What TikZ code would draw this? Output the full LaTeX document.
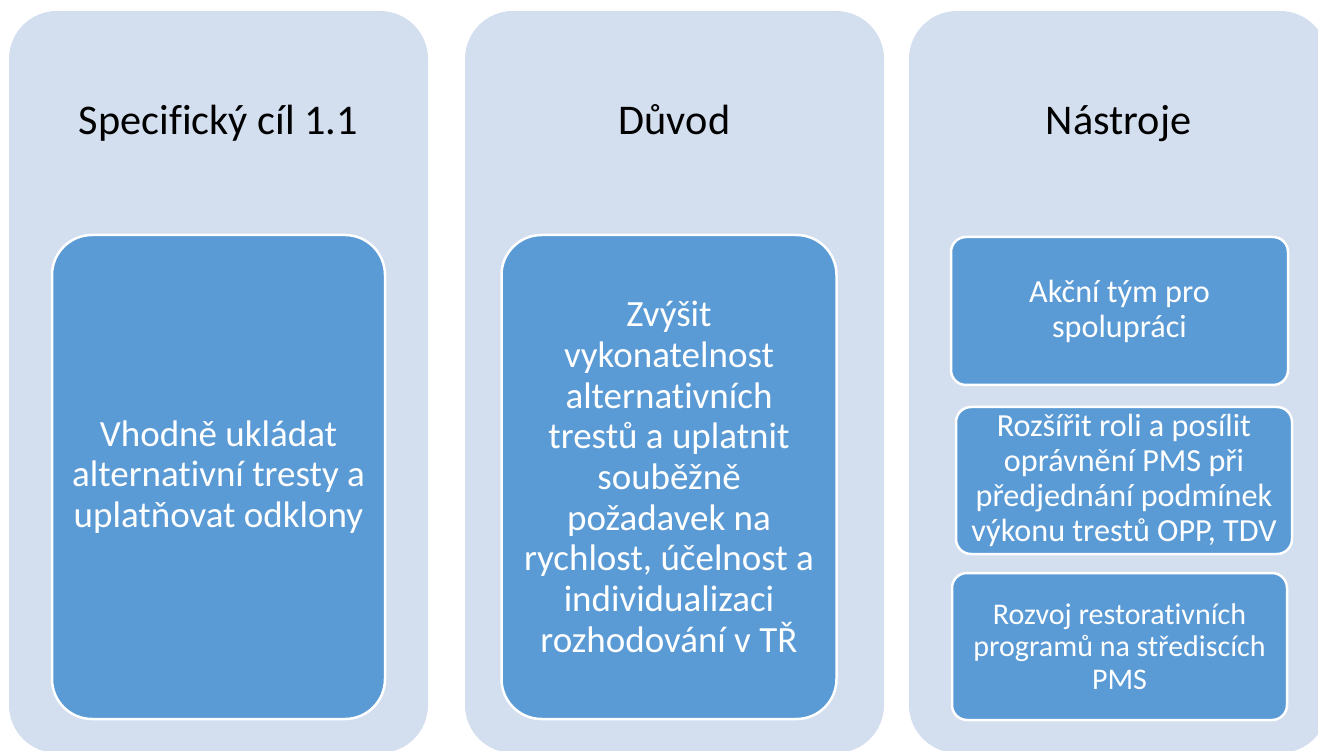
\documentclass[tikz,border=0pt]{standalone}
\usepackage{fontspec}
\setmainfont{Carlito}[Ligatures=NoCommon]
\definecolor{colbg}{RGB}{211,222,239}
\definecolor{boxbg}{RGB}{91,155,213}
\begin{document}
\begin{tikzpicture}[x=1pt,y=-1pt,
  column/.style={fill=colbg, rounded corners=48pt, minimum width=419pt, minimum height=742pt, inner sep=0pt},
  coltitle/.style={font=\fontsize{42.3}{47}\selectfont, text=black, anchor=base, inner sep=0pt},
  bigbox/.style={fill=boxbg, draw=white, line width=2.5pt, rounded corners=40pt, text=white, align=center, font=\fontsize{37}{40.7}\selectfont, inner sep=0pt},
  smallbox/.style={fill=boxbg, draw=white, line width=2.5pt, rounded corners=15pt, text=white, align=center, font=\fontsize{32.2}{35}\selectfont, inner sep=0pt},
]
\useasboundingbox (0,0) rectangle (1318,751);
\node[column] (c1) at (218.5,382) {};
\node[column] (c2) at (674.5,382) {};
\node[column] (c3) at (1118.5,382) {};

\node[coltitle] (t1) at (218.5,135) {Specifický cíl 1.1};
\node[coltitle] (t2) at (674.5,135) {Důvod};
\node[coltitle] (t3) at (1118.5,135) {Nástroje};

\node[bigbox, minimum width=333pt, minimum height=484pt] (b1) at (218.5,477)
  {Vhodně ukládat\\alternativní tresty a\\uplatňovat odklony};
\node[bigbox, minimum width=335pt, minimum height=484pt] (b2) at (669,477)
  {Zvýšit\\vykonatelnost\\alternativních\\trestů a uplatnit\\souběžně\\požadavek na\\rychlost, účelnost a\\individualizaci\\rozhodování v TŘ};

\node[smallbox, minimum width=337pt, minimum height=148pt] (n1) at (1119.5,311)
  {Akční tým pro\\spolupráci};
\node[smallbox, minimum width=336pt, minimum height=147pt] (n2) at (1124,480.5)
  {Rozšířit roli a posílit\\oprávnění PMS při\\předjednání podmínek\\výkonu trestů OPP, TDV};
\node[smallbox, minimum width=335pt, minimum height=147pt, font=\fontsize{30}{32.5}\selectfont] (n3) at (1119.5,646.5)
  {Rozvoj restorativních\\programů na střediscích\\PMS};
\end{tikzpicture}
\end{document}
